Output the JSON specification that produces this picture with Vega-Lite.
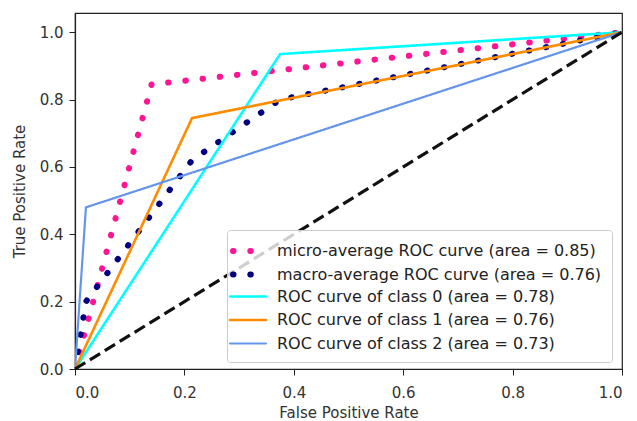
{
  "$schema": "https://vega.github.io/schema/vega-lite/v6.json",
  "autosize": {"type": "none"},
  "padding": {"left": 75, "top": 13, "right": 15, "bottom": 52},
  "width": 547,
  "height": 356,
  "background": "white",
  "config": {
    "font": "DejaVu Sans",
    "view": {"stroke": "#222", "strokeWidth": 1.2},
    "axis": {
      "grid": false,
      "domainColor": "#222",
      "domainWidth": 1.2,
      "tickColor": "#222",
      "tickSize": 6,
      "labelFontSize": 15,
      "labelColor": "#333",
      "labelFont": "DejaVu Sans",
      "titleFont": "DejaVu Sans",
      "titleFontSize": 15,
      "titleFontWeight": "normal",
      "titleColor": "#333"
    }
  },
  "layer": [
    {
      "data": {
        "values": [
          {"series": "micro-average ROC curve (area = 0.85)", "i": 0, "fpr": 0, "tpr": 0},
          {"series": "micro-average ROC curve (area = 0.85)", "i": 1, "fpr": 0.14, "tpr": 0.845},
          {"series": "micro-average ROC curve (area = 0.85)", "i": 2, "fpr": 1, "tpr": 1},
          {"series": "macro-average ROC curve (area = 0.76)", "i": 0, "fpr": 0, "tpr": 0},
          {"series": "macro-average ROC curve (area = 0.76)", "i": 1, "fpr": 0.02, "tpr": 0.2},
          {"series": "macro-average ROC curve (area = 0.76)", "i": 2, "fpr": 0.214, "tpr": 0.62},
          {"series": "macro-average ROC curve (area = 0.76)", "i": 3, "fpr": 0.375, "tpr": 0.8},
          {"series": "macro-average ROC curve (area = 0.76)", "i": 4, "fpr": 1, "tpr": 1},
          {"series": "ROC curve of class 0 (area = 0.78)", "i": 0, "fpr": 0, "tpr": 0},
          {"series": "ROC curve of class 0 (area = 0.78)", "i": 1, "fpr": 0.375, "tpr": 0.935},
          {"series": "ROC curve of class 0 (area = 0.78)", "i": 2, "fpr": 1, "tpr": 1},
          {"series": "ROC curve of class 1 (area = 0.76)", "i": 0, "fpr": 0, "tpr": 0},
          {"series": "ROC curve of class 1 (area = 0.76)", "i": 1, "fpr": 0.214, "tpr": 0.745},
          {"series": "ROC curve of class 1 (area = 0.76)", "i": 2, "fpr": 1, "tpr": 1},
          {"series": "ROC curve of class 2 (area = 0.73)", "i": 0, "fpr": 0, "tpr": 0},
          {"series": "ROC curve of class 2 (area = 0.73)", "i": 1, "fpr": 0.02, "tpr": 0.48},
          {"series": "ROC curve of class 2 (area = 0.73)", "i": 2, "fpr": 1, "tpr": 1}
        ]
      },
      "mark": {"type": "line", "clip": true, "strokeCap": "round"},
      "encoding": {
        "x": {
          "field": "fpr", "type": "quantitative",
          "scale": {"domain": [0, 1], "nice": false, "zero": false},
          "axis": {"title": "False Positive Rate", "values": [0, 0.2, 0.4, 0.6, 0.8, 1.0], "format": ".1f", "labelPadding": 10, "titlePadding": 5}
        },
        "y": {
          "field": "tpr", "type": "quantitative",
          "scale": {"domain": [0, 1.057], "nice": false, "zero": false},
          "axis": {"title": "True Positive Rate", "values": [0, 0.2, 0.4, 0.6, 0.8, 1.0], "format": ".1f", "labelPadding": 6, "titlePadding": 12}
        },
        "order": {"field": "i", "type": "quantitative"},
        "color": {
          "field": "series", "type": "nominal",
          "scale": {
            "domain": ["micro-average ROC curve (area = 0.85)", "macro-average ROC curve (area = 0.76)", "ROC curve of class 0 (area = 0.78)", "ROC curve of class 1 (area = 0.76)", "ROC curve of class 2 (area = 0.73)"],
            "range": ["#ff1493", "#000080", "#00ffff", "#ff8c00", "#6495ed"]
          },
          "legend": {
            "title": null,
            "orient": "none",
            "legendX": 152,
            "legendY": 217,
            "symbolType": "M-2.25,0H2.25",
            "symbolSize": 256,
            "symbolFillColor": "transparent",
            "labelFontSize": 16,
            "labelColor": "#222",
            "labelFont": "DejaVu Sans",
            "labelLimit": 400,
            "labelOffset": 18,
            "gridAlign": "all",
            "rowPadding": -0.5,
            "padding": 10,
            "strokeColor": "#cccccc",
            "fillColor": "rgba(255,255,255,0.8)",
            "cornerRadius": 3,
            "symbolDashOffset": -3,
            "encode": {"symbols": {"update": {"strokeCap": {"value": "round"}, "fill": {"value": "transparent"}}}}
          }
        },
        "strokeDash": {
          "field": "series", "type": "nominal",
          "scale": {
            "domain": ["micro-average ROC curve (area = 0.85)", "macro-average ROC curve (area = 0.76)", "ROC curve of class 0 (area = 0.78)", "ROC curve of class 1 (area = 0.76)", "ROC curve of class 2 (area = 0.73)"],
            "range": [[0.5, 16.8], [0.5, 16.8], [1, 0], [1, 0], [1, 0]]
          }
        },
        "strokeWidth": {
          "field": "series", "type": "nominal",
          "scale": {
            "type": "ordinal",
            "domain": ["micro-average ROC curve (area = 0.85)", "macro-average ROC curve (area = 0.76)", "ROC curve of class 0 (area = 0.78)", "ROC curve of class 1 (area = 0.76)", "ROC curve of class 2 (area = 0.73)"],
            "range": [6, 6, 2.6, 2.6, 2.2]
          }
        }
      }
    },
    {
      "data": {"values": [{"fpr": 0, "tpr": 0}, {"fpr": 1, "tpr": 1}]},
      "mark": {"type": "line", "color": "#111", "strokeWidth": 3.2, "strokeDash": [12, 5.5]},
      "encoding": {
        "x": {"field": "fpr", "type": "quantitative"},
        "y": {"field": "tpr", "type": "quantitative"}
      }
    }
  ]
}
